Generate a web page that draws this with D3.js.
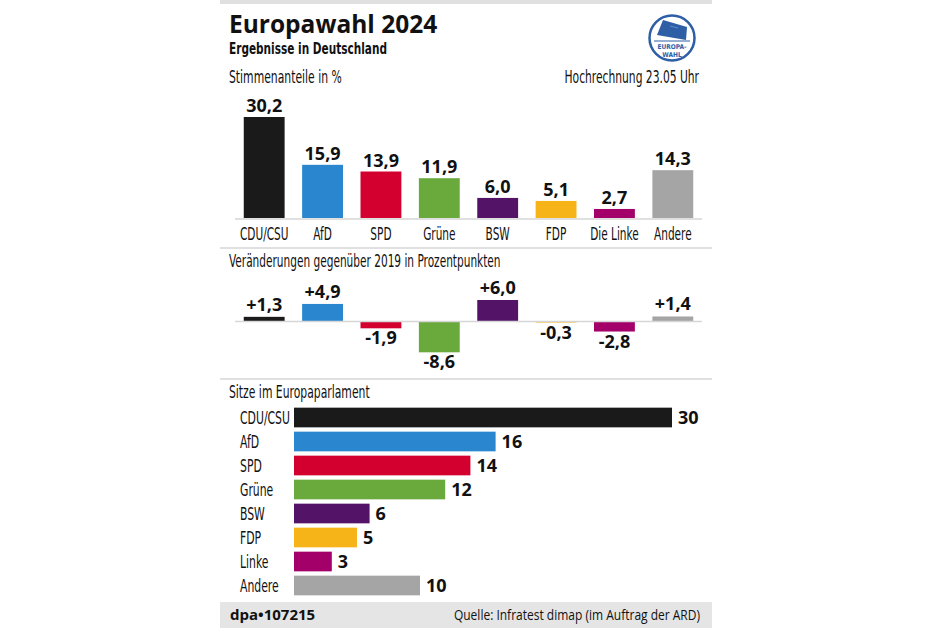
<!DOCTYPE html>
<html><head><meta charset="utf-8">
<script src="https://cdn.jsdelivr.net/npm/d3@7"></script>
<style>
html,body{margin:0;padding:0;background:#fff;}
svg{display:block;}
</style></head>
<body>
<script>
const parties = ["CDU/CSU","AfD","SPD","Grüne","BSW","FDP","Die Linke","Andere"];
const seatLabels = ["CDU/CSU","AfD","SPD","Grüne","BSW","FDP","Linke","Andere"];
const colors = ["#1a1a1a","#2a87cf","#d3002f","#6aaa3c","#531468","#f6b419","#a4006a","#a5a5a5"];
const shares = [30.2,15.9,13.9,11.9,6.0,5.1,2.7,14.3];
const changes = [1.3,4.9,-1.9,-8.6,6.0,-0.3,-2.8,1.4];
const seats = [30,16,14,12,6,5,3,10];

const W = 951, H = 634;
const svg = d3.select("body").append("svg").attr("width",W).attr("height",H);

const COND = "'Liberation Sans Narrow','Arial Narrow','DejaVu Sans Condensed',sans-serif";
const BOLD = "'Open Sans','DejaVu Sans',sans-serif";
const fmt = v => v.toFixed(1).replace(".",",");
const fmtS = v => (v>0?"+":"") + v.toFixed(1).replace(".",",");

// horizontally condensed text via a scale transform
function condText(x,y,t,size,anchor,weight,f,family){
  const g = svg.append("g").attr("transform",`translate(${x},${y}) scale(${f||0.7},1)`);
  return g.append("text").attr("x",0).attr("y",0).text(t)
    .attr("font-family",family||COND).attr("font-size",size).attr("fill","#111")
    .attr("text-anchor",anchor||"start").attr("font-weight",weight||"normal");
}

// card frame elements
const L = 220, R = 712;
svg.append("rect").attr("x",L).attr("y",0).attr("width",R-L).attr("height",4).attr("fill","#e0e0e0");
svg.append("text").attr("x",229).attr("y",33).text("Europawahl 2024")
  .attr("font-family",BOLD).attr("font-weight","bold").attr("font-size",24.5).attr("fill","#111");
condText(229,54,"Ergebnisse in Deutschland",16.5,"start","bold",0.71);

// logo
const lg = svg.append("g").attr("transform","translate(672,38)");
lg.append("circle").attr("r",22.5).attr("fill","#fff").attr("stroke","#2d5ea6").attr("stroke-width",2.5);
lg.append("path").attr("d","M-15,-3 L-9,-18 L15,-11 L14,2 Z").attr("fill","#2d5ea6");
lg.append("path").attr("d","M-2,-12 L6,-10").attr("stroke","#6d95cf").attr("stroke-width",0.8);
lg.append("line").attr("x1",-18).attr("x2",18).attr("y1",3).attr("y2",3).attr("stroke","#2d5ea6").attr("stroke-width",1.2);
lg.append("text").attr("y",11).attr("text-anchor","middle").text("EUROPA-")
  .attr("font-family",COND).attr("font-weight","bold").attr("font-size",6.5).attr("fill","#2d5ea6");
lg.append("text").attr("y",19).attr("text-anchor","middle").text("WAHL")
  .attr("font-family",COND).attr("font-weight","bold").attr("font-size",6.5).attr("fill","#2d5ea6");

// section 1
condText(229,83,"Stimmenanteile in %",18.5,"start","normal",0.65);
condText(699,83,"Hochrechnung 23.05 Uhr",18.5,"end","normal",0.645);

const x = d3.scaleBand().domain(parties).range([235,702]).paddingInner(0.3).paddingOuter(0.15);
const y1 = d3.scaleLinear().domain([0,30.2]).range([218,117]);

svg.append("g").selectAll("rect").data(parties).join("rect")
  .attr("x",d=>x(d)).attr("width",x.bandwidth())
  .attr("y",(d,i)=>y1(shares[i])).attr("height",(d,i)=>y1(0)-y1(shares[i]))
  .attr("fill",(d,i)=>colors[i]);
svg.append("line").attr("x1",235).attr("x2",702).attr("y1",219).attr("y2",219).attr("stroke","#d6d6d6").attr("stroke-width",1.5);
svg.append("g").selectAll("text").data(parties).join("text")
  .attr("x",d=>x(d)+x.bandwidth()/2).attr("y",(d,i)=>y1(shares[i])-5)
  .attr("text-anchor","middle").attr("font-family",BOLD).attr("font-weight","bold")
  .attr("font-size",18).attr("fill","#111").text((d,i)=>fmt(shares[i]));
parties.forEach(p=>condText(x(p)+x.bandwidth()/2,240,p,17.5,"middle","normal",0.67));

svg.append("line").attr("x1",L).attr("x2",R).attr("y1",248).attr("y2",248).attr("stroke","#e0e0e0").attr("stroke-width",2);

// section 2
condText(229,267,"Veränderungen gegenüber 2019 in Prozentpunkten",18.5,"start","normal",0.635);
const y2 = d3.scaleLinear().domain([0,6]).range([321.5,300]);
svg.append("g").selectAll("rect").data(parties).join("rect")
  .attr("x",d=>x(d)).attr("width",x.bandwidth())
  .attr("y",(d,i)=>Math.min(y2(changes[i]),y2(0)))
  .attr("height",(d,i)=>Math.abs(y2(changes[i])-y2(0)))
  .attr("fill",(d,i)=>colors[i]);
svg.append("line").attr("x1",235).attr("x2",702).attr("y1",321.5).attr("y2",321.5).attr("stroke","#d6d6d6").attr("stroke-width",1.5);
svg.append("g").selectAll("text").data(parties).join("text")
  .attr("x",d=>x(d)+x.bandwidth()/2)
  .attr("y",(d,i)=>changes[i]>=0 ? y2(changes[i])-6 : y2(changes[i])+16)
  .attr("text-anchor","middle").attr("font-family",BOLD).attr("font-weight","bold")
  .attr("font-size",18).attr("fill","#111").text((d,i)=>fmtS(changes[i]));

svg.append("line").attr("x1",L).attr("x2",R).attr("y1",379).attr("y2",379).attr("stroke","#e0e0e0").attr("stroke-width",2);

// section 3
condText(229,398,"Sitze im Europaparlament",18.5,"start","normal",0.65);
const ys = d3.scaleBand().domain(seatLabels).range([405.5,597.5]).paddingInner(0.18).paddingOuter(0.09);
const xs = d3.scaleLinear().domain([0,30]).range([294,672]);
svg.append("g").selectAll("rect").data(seatLabels).join("rect")
  .attr("x",xs(0)).attr("y",d=>ys(d)).attr("height",ys.bandwidth())
  .attr("width",(d,i)=>xs(seats[i])-xs(0)).attr("fill",(d,i)=>colors[i]);
seatLabels.forEach(p=>condText(240,ys(p)+ys.bandwidth()/2+6.5,p,17.5,"start","normal",0.69));
svg.append("g").selectAll("text").data(seatLabels).join("text")
  .attr("x",(d,i)=>xs(seats[i])+6).attr("y",d=>ys(d)+ys.bandwidth()/2+6.5)
  .attr("font-family",BOLD).attr("font-weight","bold").attr("font-size",18).attr("fill","#111")
  .text((d,i)=>seats[i]);

// footer
svg.append("rect").attr("x",L).attr("y",602).attr("width",R-L).attr("height",26).attr("fill","#e5e5e5");
svg.append("text").attr("x",230).attr("y",620).text("dpa•107215")
  .attr("font-family",BOLD).attr("font-weight","bold").attr("font-size",15).attr("fill","#111");
condText(700,620,"Quelle: Infratest dimap (im Auftrag der ARD)",15,"end","normal",0.80,"'Open Sans',sans-serif");
</script>
</body></html>
